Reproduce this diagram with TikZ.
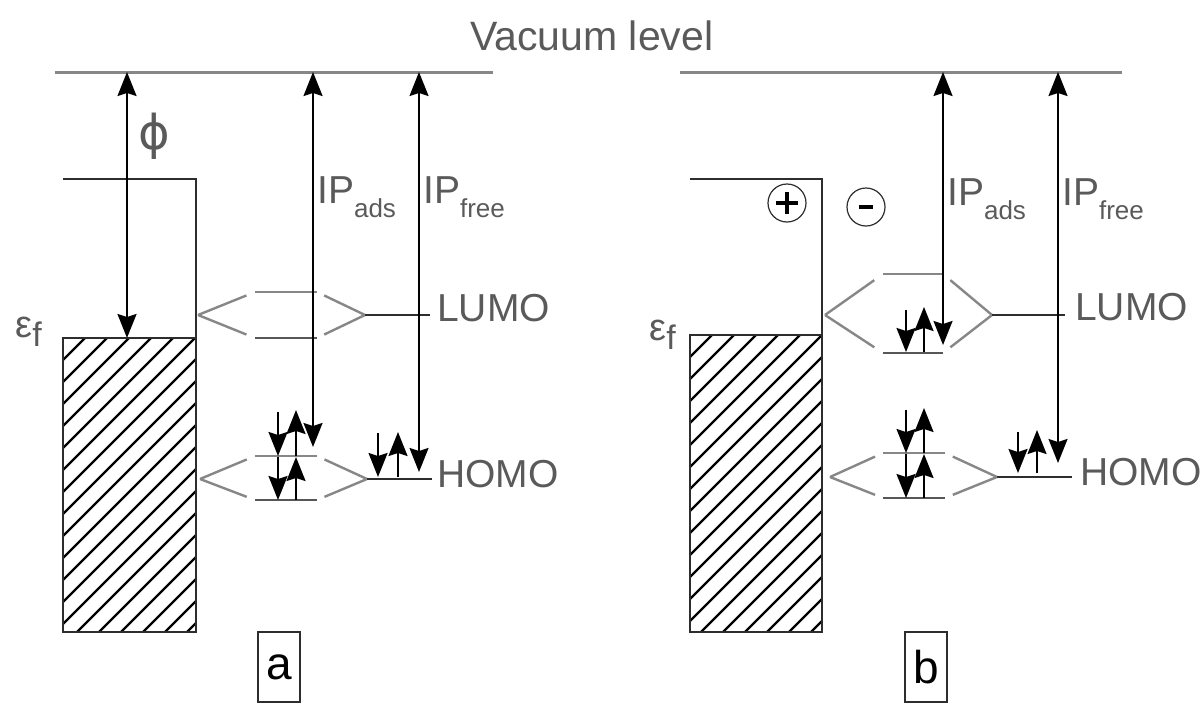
\documentclass[tikz,border=0pt]{standalone}
\usepackage{fontspec}
\setmainfont{Liberation Sans}
\newfontfamily\greekfont{DejaVu Sans}
\usetikzlibrary{arrows.meta,calc}
\definecolor{txtgray}{RGB}{90,90,90}
\definecolor{linegray}{RGB}{135,135,135}
\definecolor{darkline}{RGB}{45,45,45}
\newcommand\lblsize{\fontsize{39}{44}\selectfont}
\newcommand\subsize{\fontsize{26}{30}\selectfont}
\newcommand\lowsub[1]{\raisebox{-14pt}{\subsize #1}}
\newcommand\fermilbl{{\fontsize{38}{40}\selectfont ε}\raisebox{-9pt}{\fontsize{34}{36}\selectfont f}}
\tikzset{bighead/.tip={Stealth[length=24pt,width=19pt,inset=3pt]}}

\begin{document}
\begin{tikzpicture}[
  x=1pt, y=-1pt,
  vac/.style={draw=linegray, line width=3pt},
  orb/.style={draw=linegray, line width=2.4pt},
  orbdark/.style={draw=darkline!80, line width=2.4pt},
  freelvl/.style={draw=darkline, line width=2pt},
  metal/.style={draw=darkline, line width=2pt},
  hatch/.style={draw=black, line width=2.4pt},
  ip/.style={bighead-bighead, draw=black, line width=1.8pt},
  spin/.style={-bighead, draw=black, line width=1.8pt},
  lbl/.style={text=txtgray, font=\lblsize, inner sep=0pt},
  panel/.style={draw=darkline, line width=2.4pt, minimum width=42pt, minimum height=70pt, inner sep=0pt, font=\fontsize{46}{50}\selectfont},
  charge/.style={circle, draw=darkline, line width=1.2pt, minimum size=38pt, inner sep=0pt},
  sign/.style={draw=black, line width=3.5pt}
]
\useasboundingbox (0,0) rectangle (1202,707);

% vacuum level
\draw[vac] (55,72) coordinate (vacA) -- (493,72);
\draw[vac] (680,72) coordinate (vacB) -- (1122,72);
\node[lbl, font=\fontsize{41}{46}\selectfont, anchor=base west] (vactxt) at (470,50) {Vacuum level};

% metal, panel a
\draw[metal] (63,179) -| (196,632);
\begin{scope}
  \clip (63,338) rectangle (196,632);
  \foreach \k in {0,...,20} \draw[hatch] ({-231+22*\k},632) -- ++(294,-294);
\end{scope}
\draw[metal] (63,338) coordinate (fermiA) rectangle (196,632);
\node[lbl, anchor=base east] (efA) at (42,337) {\fermilbl};

% metal, panel b
\draw[metal] (690,179) -| (822,632);
\begin{scope}
  \clip (690,335) rectangle (822,632);
  \foreach \k in {0,...,20} \draw[hatch] ({393+22*\k},632) -- ++(297,-297);
\end{scope}
\draw[metal] (690,335) coordinate (fermiB) rectangle (822,632);
\node[lbl, anchor=base east] (efB) at (676,340) {\fermilbl};

% work function
\draw[ip] (fermiA -| 127,0) coordinate (phiBot) -- (phiBot |- vacA);
\node[lbl, font=\greekfont\fontsize{48}{52}\selectfont] (phi) at (154,136) {ϕ};

% split orbitals
\foreach \n/\lx/\ly/\ax/\bx/\ty/\by/\rx in {aL/198/315/255/317/292/338/365, aH/200/479/255/317/456/500/367, bL/825/315/883/943/274/353/992, bH/830/477/883/945/453/498/997}{
  \coordinate (\n-l) at (\lx,\ly);
  \coordinate (\n-r) at (\rx,\ly);
  \coordinate (\n-tl) at (\ax,\ty);
  \coordinate (\n-tr) at (\bx,\ty);
  \coordinate (\n-bl) at (\ax,\by);
  \coordinate (\n-br) at (\bx,\by);
  \draw[orb] (\n-tl) -- (\n-tr);
  \draw[orbdark] (\n-bl) -- (\n-br);
  \draw[orb] (\n-l) -- ($(\n-l)!.85!(\n-tl)$) (\n-l) -- ($(\n-l)!.85!(\n-bl)$)
             (\n-r) -- ($(\n-r)!.85!(\n-tr)$) (\n-r) -- ($(\n-r)!.85!(\n-br)$);
}

% free molecule levels
\draw[freelvl] (aL-r) -- ++(65,0) coordinate (lumoA);
\draw[freelvl] (aH-r) -- ++(65,0) coordinate (homoA);
\draw[freelvl] (bL-r) -- ++(73,0) coordinate (lumoB);
\draw[freelvl] (bH-r) -- ++(75,0) coordinate (homoB);
\node[lbl, anchor=base west] (lumoAtxt) at (437,321) {LUMO};
\node[lbl, anchor=base west] (homoAtxt) at (437,487) {HOMO};
\node[lbl, anchor=base west] (lumoBtxt) at (1075,320) {LUMO};
\node[lbl, anchor=base west] (homoBtxt) at (1080,485) {HOMO};

% ionisation potentials
\draw[ip] (313,447) coordinate (adsA) -- (adsA |- vacA);
\draw[ip] (419,472) coordinate (freeA) -- (freeA |- vacA);
\draw[ip] (943,345) coordinate (adsB) -- (adsB |- vacB);
\draw[ip] (1058,463) coordinate (freeB) -- (freeB |- vacB);
\node[lbl, anchor=base west] (ipadsA) at (317,203) {IP\lowsub{ads}};
\node[lbl, anchor=base west] (ipfreeA) at (423,203) {IP\lowsub{free}};
\node[lbl, anchor=base west] (ipadsB) at (947,205) {IP\lowsub{ads}};
\node[lbl, anchor=base west] (ipfreeB) at (1062,205) {IP\lowsub{free}};

% electrons
\foreach \x/\yt/\yb in {278/412/456, 278/457/500, 378/433/477, 906/310/352, 906/410/453, 906/454/498, 1018/432/473}
  \draw[spin] (\x,\yt) -- (\x,\yb);
\foreach \x/\yb/\yt in {296/456/410, 296/500/457, 398/477/432, 924/352/307, 924/453/408, 924/498/454, 1037/473/430}
  \draw[spin] (\x,\yb) -- (\x,\yt);

% charges
\node[charge] (pos) at (787,203) {};
\draw[sign] ([xshift=-11pt]pos.center) -- ([xshift=11pt]pos.center);
\draw[sign] ([yshift=-11pt]pos.center) -- ([yshift=11pt]pos.center);
\node[charge] (neg) at (866,207) {};
\draw[sign] ([xshift=-7pt]neg.center) -- ([xshift=7pt]neg.center);

% panel labels
\node[panel] (panelA) at (279,667) {a};
\node[panel] (panelB) at (926,667) {b};
\end{tikzpicture}
\end{document}
